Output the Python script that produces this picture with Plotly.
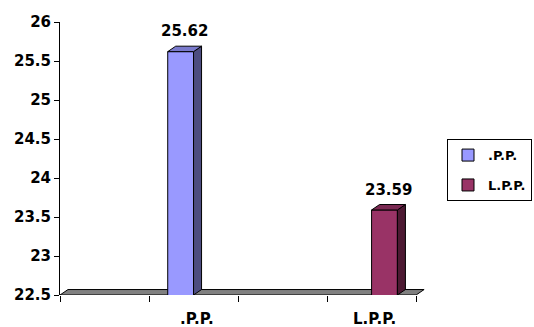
import plotly.graph_objects as go

# ---- data ----
categories = ["", ".P.P.", "", "L.P.P."]
series_names = [".P.P.", "L.P.P."]
pp_values = [None, 25.62, None, None]
lpp_values = [None, None, None, 23.59]
y_ticks = [22.5, 23, 23.5, 24, 24.5, 25, 25.5, 26]

front_colors = ["#9999FF", "#993366"]
side_colors = ["#4D4D80", "#4D1A33"]
top_colors = ["#7A7ACC", "#7A2952"]

FONT = "DejaVu Sans"
y_min, y_max = y_ticks[0], y_ticks[-1]
bargap = 0.42
n_series = 2
group_w = 1 - bargap
bar_w = group_w / n_series
dx, dy = 0.09, 0.07  # 3D depth offsets (style)

fig = go.Figure()
all_vals = [pp_values, lpp_values]
for k, (name, vals) in enumerate(zip(series_names, all_vals)):
    fig.add_trace(go.Bar(
        x=list(range(len(categories))), y=vals, name=f"<b>{name}</b>",
        marker=dict(color=front_colors[k], line=dict(color="black", width=1)),
        legendgroup=name, hoverinfo="skip",
    ))

shapes = []
n = len(categories)
shapes.append(dict(
    type="path", xref="x", yref="y", layer="below",
    path=f"M {-0.5},{y_min} L {n-0.5},{y_min} L {n-0.5+dx},{y_min+dy} L {-0.5+dx},{y_min+dy} Z",
    fillcolor="#808080", line=dict(color="black", width=1),
))
annotations = []
for k, vals in enumerate(all_vals):
    for i, v in enumerate(vals):
        if v is None:
            continue
        x0 = i - group_w / 2 + k * bar_w
        x1 = x0 + bar_w
        shapes.append(dict(
            type="path", xref="x", yref="y", layer="above",
            path=f"M {x1},{y_min} L {x1+dx},{y_min+dy} L {x1+dx},{v+dy} L {x1},{v} Z",
            fillcolor=side_colors[k], line=dict(color="black", width=1),
        ))
        shapes.append(dict(
            type="path", xref="x", yref="y", layer="above",
            path=f"M {x0},{v} L {x0+dx},{v+dy} L {x1+dx},{v+dy} L {x1},{v} Z",
            fillcolor=top_colors[k], line=dict(color="black", width=1),
        ))
        annotations.append(dict(
            x=(x0 + x1 + dx) / 2, y=v + dy, xref="x", yref="y",
            text=f"<b>{v:.2f}</b>", showarrow=False, yanchor="bottom", yshift=4,
            font=dict(family=FONT, size=15, color="black"),
        ))

for i, c in enumerate(categories):
    if c:
        annotations.append(dict(
            x=i, y=0, xref="x", yref="paper", text=f"<b>{c}</b>", showarrow=False,
            yanchor="top", yshift=-13, xshift=3,
            font=dict(family=FONT, size=15, color="black"),
        ))

fig.update_layout(
    width=534, height=327,
    margin=dict(l=60, r=109, t=22, b=32, autoexpand=False),
    paper_bgcolor="white", plot_bgcolor="white",
    barmode="group", bargap=bargap, bargroupgap=0,
    shapes=shapes, annotations=annotations,
    showlegend=True,
    legend=dict(
        x=(532 - 60) / 365, xanchor="right", y=0.571, yanchor="top",
        bordercolor="black", borderwidth=1, bgcolor="white",
        font=dict(family=FONT, size=13, color="black"),
        traceorder="grouped", tracegroupgap=10, itemwidth=30,
    ),
    xaxis=dict(
        range=[-0.5, n - 0.5 + 0.1], showline=False, showgrid=False, zeroline=False,
        tickvals=[i - 0.5 for i in range(n + 1)], ticktext=[""] * (n + 1),
        ticks="outside", ticklen=6, tickcolor="black",
    ),
    yaxis=dict(
        range=[y_min, y_max], tickvals=y_ticks,
        ticktext=[f"<b>{t:g}</b>" for t in y_ticks],
        showline=True, linecolor="black", linewidth=1, showgrid=False, zeroline=False,
        ticks="outside", ticklen=5, tickcolor="black",
        tickfont=dict(family=FONT, size=15, color="black"),
    ),
)

fig.write_html("out.html")
